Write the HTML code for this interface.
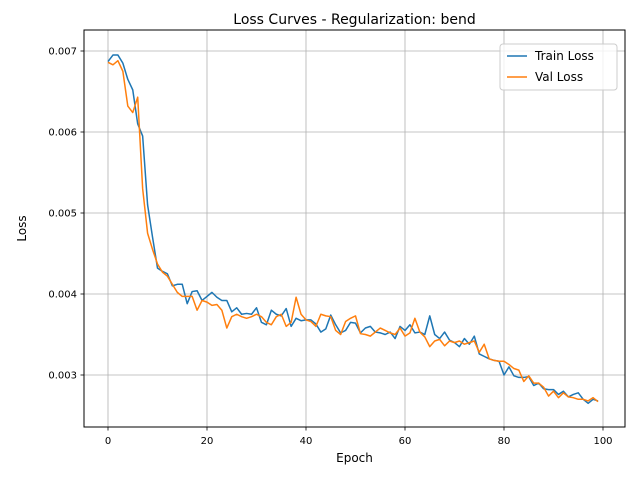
<!DOCTYPE html>
<html><head><meta charset="utf-8"><style>
body{margin:0;background:#fff}
svg text{font-family:"DejaVu Sans","Liberation Sans",sans-serif;fill:#000}
</style></head><body>
<svg id="c" width="640" height="480" xmlns="http://www.w3.org/2000/svg">
<rect width="640" height="480" fill="#fff"/>
<g id="grid"></g>
<g id="lines"></g>
<rect x="84" y="30" width="541" height="397" fill="none" stroke="#000" stroke-width="1"/>
<g id="ticks"></g>
<text x="354.5" y="24" font-size="14" text-anchor="middle">Loss Curves - Regularization: bend</text>
<text x="354.5" y="462" font-size="12" text-anchor="middle">Epoch</text>
<text transform="translate(26,228.5) rotate(-90)" font-size="12" text-anchor="middle">Loss</text>
<g>
<rect x="500" y="44" width="117" height="46" rx="3" fill="#fff" fill-opacity="0.8" stroke="#ccc"/>
<line x1="507" y1="56" x2="527" y2="56" stroke="#1f77b4" stroke-width="1.5"/>
<text x="535" y="60" font-size="12">Train Loss</text>
<line x1="507" y1="77" x2="527" y2="77" stroke="#ff7f0e" stroke-width="1.5"/>
<text x="535" y="81" font-size="12">Val Loss</text>
</g>
</svg>
<script>
const trainLoss=[6.87,6.95,6.95,6.85,6.65,6.52,6.1,5.95,5.1,4.7,4.32,4.28,4.25,4.1,4.12,4.12,3.88,4.03,4.04,3.92,3.97,4.02,3.96,3.92,3.92,3.78,3.83,3.75,3.76,3.75,3.83,3.65,3.62,3.8,3.75,3.73,3.82,3.6,3.7,3.67,3.68,3.68,3.63,3.53,3.57,3.74,3.62,3.52,3.55,3.65,3.64,3.52,3.58,3.6,3.53,3.52,3.5,3.53,3.45,3.6,3.55,3.62,3.52,3.53,3.5,3.73,3.5,3.45,3.53,3.43,3.4,3.35,3.45,3.38,3.48,3.26,3.23,3.2,3.18,3.17,3.0,3.1,2.99,2.97,2.97,2.98,2.87,2.9,2.83,2.82,2.82,2.76,2.8,2.73,2.76,2.78,2.7,2.65,2.7,2.68];
const valLoss=[6.86,6.83,6.88,6.75,6.32,6.24,6.43,5.3,4.75,4.55,4.37,4.27,4.22,4.12,4.02,3.97,3.97,3.97,3.8,3.92,3.9,3.86,3.87,3.8,3.58,3.72,3.75,3.72,3.7,3.72,3.75,3.72,3.65,3.62,3.72,3.75,3.6,3.65,3.96,3.75,3.68,3.66,3.6,3.75,3.73,3.72,3.55,3.5,3.66,3.7,3.73,3.51,3.5,3.48,3.53,3.58,3.55,3.52,3.5,3.58,3.48,3.52,3.7,3.53,3.47,3.35,3.42,3.44,3.36,3.42,3.4,3.42,3.38,3.4,3.42,3.28,3.38,3.2,3.18,3.17,3.17,3.13,3.08,3.06,2.92,2.99,2.9,2.9,2.85,2.74,2.8,2.72,2.78,2.73,2.72,2.7,2.7,2.68,2.72,2.67];
const xTicks=[0,20,40,60,80,100];
const yTicks=[3,4,5,6,7];
const yTickLabels=["0.003","0.004","0.005","0.006","0.007"];
const NS="http://www.w3.org/2000/svg";
const X=v=>108+v*4.95;
const Y=v=>375-(v-3)*81;
function mk(t,a,p){const e=document.createElementNS(NS,t);for(const k in a)e.setAttribute(k,a[k]);p.appendChild(e);return e;}
const g=document.getElementById('grid'),tk=document.getElementById('ticks'),ln=document.getElementById('lines');
xTicks.forEach(v=>{
  const l=mk('line',{x1:X(v),x2:X(v),y1:30,y2:427,stroke:'#b0b0b0','stroke-width':0.8},g);
  
  
  mk('line',{x1:X(v),x2:X(v),y1:427,y2:430.5,stroke:'#000','stroke-width':0.8},tk);
  const t=mk('text',{x:X(v),y:444,'font-size':10,'text-anchor':'middle'},tk);
  t.textContent=v;
  
  
});
yTicks.forEach((v,i)=>{
  const l=mk('line',{x1:84,x2:625,y1:Y(v),y2:Y(v),stroke:'#b0b0b0','stroke-width':0.8},g);
  
  
  mk('line',{x1:80.5,x2:84,y1:Y(v),y2:Y(v),stroke:'#000','stroke-width':0.8},tk);
  const t=mk('text',{x:77,y:Y(v)+3.5,'font-size':10,'text-anchor':'end'},tk);
  t.textContent=yTickLabels[i];
  
  
});
function line(d,c,n){
  const p=mk('polyline',{points:d.map((v,i)=>X(i)+','+Y(v)).join(' '),fill:'none',stroke:c,'stroke-width':1.5,'stroke-linejoin':'round'},ln);
  
  
}
line(trainLoss,'#1f77b4','train-loss-line');
line(valLoss,'#ff7f0e','val-loss-line');
</script>
</body></html>
